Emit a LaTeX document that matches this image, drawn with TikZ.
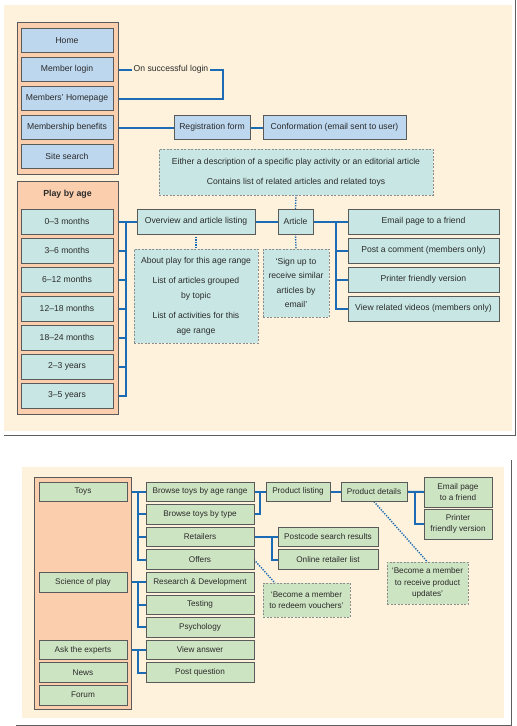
\documentclass[tikz,border=0pt]{standalone}
\usepackage{fontspec}
\setmainfont{Liberation Sans}
\usetikzlibrary{backgrounds}
\definecolor{cream}{HTML}{FEF2DC}
\definecolor{orangef}{HTML}{FBCFAE}
\definecolor{bluef}{HTML}{BDD7EE}
\definecolor{tealf}{HTML}{C8E7E4}
\definecolor{greenf}{HTML}{CDE4C2}
\definecolor{linec}{HTML}{1B6CB4}
\definecolor{bord}{HTML}{5A5A5A}
\definecolor{notebord}{HTML}{8C8C8C}
\definecolor{txt}{HTML}{2A2A2A}
\definecolor{framec}{HTML}{5E5E5E}
\newcommand{\mkbox}[7]{\node[#2, minimum width={(#5-#3)*1pt}, minimum height={(#6-#4)*1pt}] (#1) at ({(#3+#5)/2},{(#4+#6)/2}) {#7};}
\begin{document}
\begin{tikzpicture}[x=1pt,y=-1pt,
  base/.style={inner sep=0pt, outer sep=0pt, align=center, text=txt, font=\fontsize{8.6}{10}\selectfont},
  bluebox/.style={base, draw=bord, line width=0.7pt, fill=bluef},
  tealbox/.style={base, draw=bord, line width=0.7pt, fill=tealf},
  greenbox/.style={base, draw=bord, line width=0.7pt, fill=greenf, font=\fontsize{8.2}{11}\selectfont},
  tnote/.style={base, draw=notebord, line width=0.7pt, dash pattern=on 2pt off 1.5pt, fill=tealf},
  gnote/.style={base, draw=notebord, line width=0.7pt, dash pattern=on 2pt off 1.5pt, fill=greenf, font=\fontsize{8.2}{11.5}\selectfont},
  col/.style={base, draw=bord, fill=orangef, line width=0.7pt},
  conn/.style={draw=linec, line width=2pt, line cap=rect},
  dotconn/.style={draw=linec, line width=1.4pt, dash pattern=on 1.3pt off 1.3pt},
  framel/.style={draw=framec, line width=1pt}]
\useasboundingbox (0,0) rectangle (517,726);

% ---------- top panel
\mkbox{navcol}{col}{17}{22}{118}{174}{}
\mkbox{agecol}{col}{17}{181}{118}{414}{}
\mkbox{home}{bluebox}{21}{28.5}{113}{52.5}{Home}
\mkbox{mlogin}{bluebox}{21}{57.5}{113}{81.5}{Member login}
\mkbox{mhome}{bluebox}{21}{86.5}{113}{110.5}{Members' Homepage}
\mkbox{mben}{bluebox}{21}{115.5}{113}{139.5}{Membership benefits}
\mkbox{search}{bluebox}{21}{144.5}{113}{168.5}{Site search}
\node[base, inner xsep=3pt] (osl) at (171,69.5) {On successful login};
\coordinate (oslc) at (223,69.5);
\mkbox{reg}{bluebox}{174}{115.5}{250}{139.5}{Registration form}
\mkbox{conf}{bluebox}{263}{115.5}{406}{139.5}{Conformation (email sent to user)}
\mkbox{note0}{tnote}{159}{149}{433}{195}{Either a description of a specific play activity or an editorial article\\[10pt]Contains list of related articles and related toys}

\node[base, font=\fontsize{8.8}{10}\selectfont\bfseries] (pba) at (67.5,194) {Play by age};
\mkbox{a03}{tealbox}{21}{209}{113}{234}{0–3 months}
\mkbox{a36}{tealbox}{21}{238}{113}{263}{3–6 months}
\mkbox{a612}{tealbox}{21}{267}{113}{292}{6–12 months}
\mkbox{a1218}{tealbox}{21}{296}{113}{321}{12–18 months}
\mkbox{a1824}{tealbox}{21}{325}{113}{350}{18–24 months}
\mkbox{a23}{tealbox}{21}{354}{113}{379}{2–3 years}
\mkbox{a35}{tealbox}{21}{383}{113}{408}{3–5 years}
\mkbox{ov}{tealbox}{137}{209}{255}{234}{Overview and article listing}
\mkbox{art}{tealbox}{278}{209}{313}{234}{Article}
\mkbox{email}{tealbox}{348}{209}{499}{234}{Email page to a friend}
\mkbox{post}{tealbox}{348}{238}{499}{263}{Post a comment (members only)}
\mkbox{printer}{tealbox}{348}{267}{499}{292}{Printer friendly version}
\mkbox{videos}{tealbox}{348}{296}{499}{321}{View related videos (members only)}
\mkbox{note1}{tnote, font=\fontsize{8.6}{15}\selectfont}{134}{249}{258}{343}{About play for this age range\\[5pt]List of articles grouped\\by topic\\[5pt]List of activities for this\\age range}
\mkbox{sign}{tnote, font=\fontsize{8.6}{14.5}\selectfont}{263}{249}{329}{317}{‘Sign up to\\receive similar\\articles by\\email’}
\coordinate (busT) at (126,221.5);
\coordinate (busB) at (126,395.5);
\coordinate (abus) at (336,221.5);

% ---------- bottom panel
\mkbox{bcol}{col}{34}{477}{131}{709}{}
\mkbox{toys}{greenbox}{39}{482}{127}{501.6}{Toys}
\mkbox{sci}{greenbox}{39}{572.4}{127}{592}{Science of play}
\mkbox{ask}{greenbox}{39}{640.2}{127}{659.8}{Ask the experts}
\mkbox{news}{greenbox}{39}{662.8}{127}{682.4}{News}
\mkbox{forum}{greenbox}{39}{685.4}{127}{705}{Forum}
\mkbox{bage}{greenbox}{146}{482}{254}{501.6}{Browse toys by age range}
\mkbox{btype}{greenbox}{146}{504.6}{254}{524.2}{Browse toys by type}
\mkbox{retail}{greenbox}{146}{527.2}{254}{546.8}{Retailers}
\mkbox{offers}{greenbox}{146}{549.8}{254}{569.4}{Offers}
\mkbox{rnd}{greenbox}{146}{572.4}{254}{592}{Research \& Development}
\mkbox{testing}{greenbox}{146}{595}{254}{614.6}{Testing}
\mkbox{psych}{greenbox}{146}{617.6}{254}{637.2}{Psychology}
\mkbox{viewa}{greenbox}{146}{640.2}{254}{659.8}{View answer}
\mkbox{postq}{greenbox}{146}{662.8}{254}{682.4}{Post question}
\mkbox{pl}{greenbox}{266}{482}{330}{501.6}{Product listing}
\mkbox{pd}{greenbox}{341}{482}{407}{501.6}{Product details}
\mkbox{em2}{greenbox}{424}{477}{492}{507}{Email page\\to a friend}
\mkbox{pr2}{greenbox}{424}{509}{492}{539}{Printer\\friendly version}
\mkbox{pc}{greenbox}{278}{527.2}{378}{546.8}{Postcode search results}
\mkbox{onl}{greenbox}{278}{549.8}{378}{569.4}{Online retailer list}
\mkbox{vouch}{gnote}{263}{583}{350}{617}{‘Become a member\\to redeem vouchers’}
\mkbox{pnote}{gnote}{387}{562}{468}{604}{‘Become a member\\to receive product\\updates’}
\coordinate (tb) at (138,491.8);
\coordinate (sb) at (138,582.2);
\coordinate (ab) at (138,650);
\coordinate (j1) at (260,491.8);
\coordinate (j2) at (415,491.8);
\coordinate (j3) at (272,537);

\begin{scope}[on background layer]
  \fill[cream] (4,5) rectangle (512,431);
  \draw[framel] (515,0) -- (515,435) -- (4,435);
  \fill[cream] (22,467) rectangle (504,718);
  \draw[framel] (511,460) -- (511,725) -- (16,725);
  \fill[orangef] (navcol.south west) rectangle (navcol.north east);
  \fill[orangef] (agecol.south west) rectangle (agecol.north east);
  \fill[orangef] (bcol.south west) rectangle (bcol.north east);
  % top connectors
  \draw[conn] (mlogin.east) -- (osl.west);
  \draw[conn] (osl.east) -- (oslc) |- (mhome.east);
  \draw[conn] (mben.east) -- (reg.west);
  \draw[conn] (reg.east) -- (conf.west);
  \draw[conn] (a03.east) -- (ov.west);
  \draw[conn] (busT) -- (busB);
  \foreach \n in {a36,a612,a1218,a1824,a23,a35} \draw[conn] (\n.east) -- (\n.east -| busT);
  \draw[conn] (ov.east) -- (art.west);
  \draw[conn] (art.east) -- (email.west);
  \foreach \n in {post,printer,videos} \draw[conn] (abus) |- (\n.west);
  \draw[dotconn] (ov.south) -- (note1.north);
  \draw[dotconn] (art.north) -- (note0.south);
  \draw[dotconn] (art.south) -- (sign.north);
  % bottom connectors
  \draw[conn] (toys.east) -- (bage.west);
  \foreach \n in {btype,retail,offers} \draw[conn] (tb) |- (\n.west);
  \draw[conn] (sci.east) -- (rnd.west);
  \foreach \n in {testing,psych} \draw[conn] (sb) |- (\n.west);
  \draw[conn] (ask.east) -- (viewa.west);
  \draw[conn] (ab) |- (postq.west);
  \draw[conn] (bage.east) -- (pl.west);
  \draw[conn] (btype.east) -| (j1);
  \draw[conn] (pl.east) -- (pd.west);
  \draw[conn] (pd.east) -- (em2.west);
  \draw[conn] (j2) |- (pr2.west);
  \draw[conn] (retail.east) -- (pc.west);
  \draw[conn] (j3) |- (onl.west);
  \draw[dotconn] (offers.east) -- ([xshift=12pt]vouch.north west);
  \draw[dotconn] (pd.south) -- (pnote.north);
\end{scope}
\end{tikzpicture}
\end{document}
